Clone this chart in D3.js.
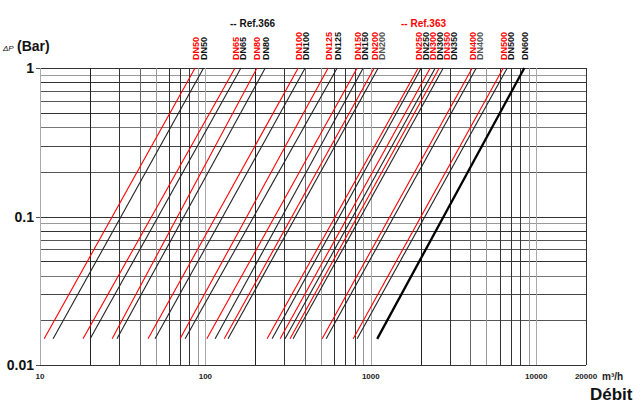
<!DOCTYPE html>
<html><head><meta charset="utf-8">
<script src="https://cdn.jsdelivr.net/npm/d3@7"></script>
<style>body{margin:0;background:#fff}svg{display:block;font-family:"Liberation Sans",Arial,sans-serif}</style>
</head><body>
<svg id="c" width="641" height="409"></svg>
<script>
const sizes363 = ["DN50","DN65","DN80","DN100","DN125","DN150","DN200","DN250","DN300","DN350","DN400","DN500"];
const qLow363  = [10.6, 18.2, 27.3, 45.0, 70.3, 102, 130, 236, 283, 325, 508, 783];
const qHigh363 = [86.6, 151, 205, 364, 552, 827, 1049, 1936, 2287, 2593, 4106, 6325];
const sizes366 = ["DN50","DN65","DN80","DN100","DN125","DN150","DN200","DN250","DN300","DN350","DN400","DN500","DN600"];
const qLow366  = [12.0, 20.1, 29.2, 49.6, 75.4, 114.5, 137, 253, 303, 339, 537, 827, 1093];
const qHigh366 = [97.5, 164, 230, 401, 626, 900, 1109, 2018, 2453, 2742, 4343, 6685, 8475];
const dpLow = 0.015, dpHigh = 1;
const xTickVals = [10, 100, 1000, 10000, 20000];
const xTickLabels = ["10", "100", "1000", "10000", "20000"];
const yTickVals = [1, 0.1, 0.01];
const yTickLabels = ["1", "0.1", "0.01"];

const svg = d3.select("#c");
const x = d3.scaleLog().domain([10, 20000]).range([40, 586]);
const y = d3.scaleLog().domain([0.01, 1]).range([365, 68]);

// grid
const vShade = {1:"#aaa",2:"#222",3:"#333",4:"#666",5:"#999",6:"#333",7:"#333",8:"#333",9:"#999"};
const hShade = {1:"#333",2:"#555",3:"#444",4:"#777",5:"#333",6:"#555",7:"#555",8:"#333",9:"#999"};
const vVals = [];
for (let e = 10; e < 20000; e *= 10) for (let m = 1; m <= 9; m++) { const v = e*m; if (v <= 20000) vVals.push({v, m}); }
const hVals = [];
for (let e = 0.01; e < 1; e *= 10) for (let m = 1; m <= 9; m++) hVals.push({v: e*m, m});
hVals.push({v:1, m:1});

const g = svg.append("g");
g.selectAll("line.h").data(hVals).join("line")
  .attr("x1", x(10)).attr("x2", x(20000))
  .attr("y1", d => Math.round(y(d.v))+0.5).attr("y2", d => Math.round(y(d.v))+0.5)
  .attr("stroke", d => hShade[d.m]).attr("stroke-width", 1);
g.selectAll("line.v").data(vVals).join("line")
  .attr("y1", y(1)).attr("y2", y(0.01))
  .attr("x1", d => Math.round(x(d.v))+0.5).attr("x2", d => Math.round(x(d.v))+0.5)
  .attr("stroke", d => d.v === 20000 ? "#333" : vShade[d.m]).attr("stroke-width", 1);

// y ticks
g.selectAll("line.yt").data(yTickVals).join("line")
  .attr("x1", 36).attr("x2", x(10))
  .attr("y1", d => Math.round(y(d))+0.5).attr("y2", d => Math.round(y(d))+0.5)
  .attr("stroke", "#555");
svg.selectAll("text.yl").data(yTickVals).join("text")
  .attr("x", 34).attr("y", d => y(d)+5)
  .attr("text-anchor", "end").attr("font-weight", "bold").attr("font-size", 14)
  .attr("fill", "#111").text((d,i) => yTickLabels[i]);

// x tick labels
svg.selectAll("text.xl").data(xTickVals).join("text")
  .attr("x", d => x(d)).attr("y", 379)
  .attr("text-anchor", "middle").attr("font-weight", "bold").attr("font-size", 8)
  .attr("fill", "#222").text((d,i) => xTickLabels[i]);
svg.append("text").attr("x", 602).attr("y", 380).attr("font-weight","bold").attr("font-size",10).attr("fill","#222").text("m³/h");
svg.append("text").attr("x", 590).attr("y", 400).attr("font-weight","bold").attr("font-size",17).attr("fill","#111").text("Débit");

// y title
svg.append("text").attr("x", 3).attr("y", 51).attr("font-size", 8).attr("font-style","italic").attr("fill","#111").text("ΔP");
svg.append("text").attr("x", 17).attr("y", 51).attr("font-weight","bold").attr("font-size", 14).attr("fill","#111").text("(Bar)");

// series lines
const series = [];
sizes363.forEach((s,i) => series.push({s, lo:qLow363[i], hi:qHigh363[i], red:true, color:"#ff0000", w:1.1}));
sizes366.forEach((s,i) => series.push({s, lo:qLow366[i], hi:qHigh366[i], red:false, color: s==="DN600" ? "#000" : "#222", w: s==="DN600" ? 2.3 : 1.1}));
const line = d3.line().x(d => x(d[0])).y(d => y(d[1]));
svg.append("g").selectAll("path").data(series).join("path")
  .attr("d", d => line([[d.lo, dpLow],[d.hi, dpHigh]]))
  .attr("fill","none").attr("stroke", d => d.color).attr("stroke-width", d => d.w);

// labels with de-overlap
const labs = series.map(d => ({text:d.s, color: d.red ? "#ff0000" : ((d.s==="DN200"||d.s==="DN400") ? "#555" : "#111"), px: x(d.hi)}))
  .sort((a,b) => a.px - b.px);
for (let i = 1; i < labs.length; i++) if (labs[i].px < labs[i-1].px + 7) labs[i].px = labs[i-1].px + 7;
svg.append("g").selectAll("text").data(labs).join("text")
  .attr("transform", d => `translate(${d.px+3.5},60) rotate(-90)`)
  .attr("font-size", 9).attr("font-weight","bold").attr("fill", d => d.color).text(d => d.text);

svg.append("text").attr("x",230).attr("y",27).attr("font-weight","bold").attr("font-size",10).attr("fill","#111").text("-- Ref.366");
svg.append("text").attr("x",401).attr("y",27).attr("font-weight","bold").attr("font-size",10).attr("fill","#ff0000").text("-- Ref.363");
</script>
</body></html>
